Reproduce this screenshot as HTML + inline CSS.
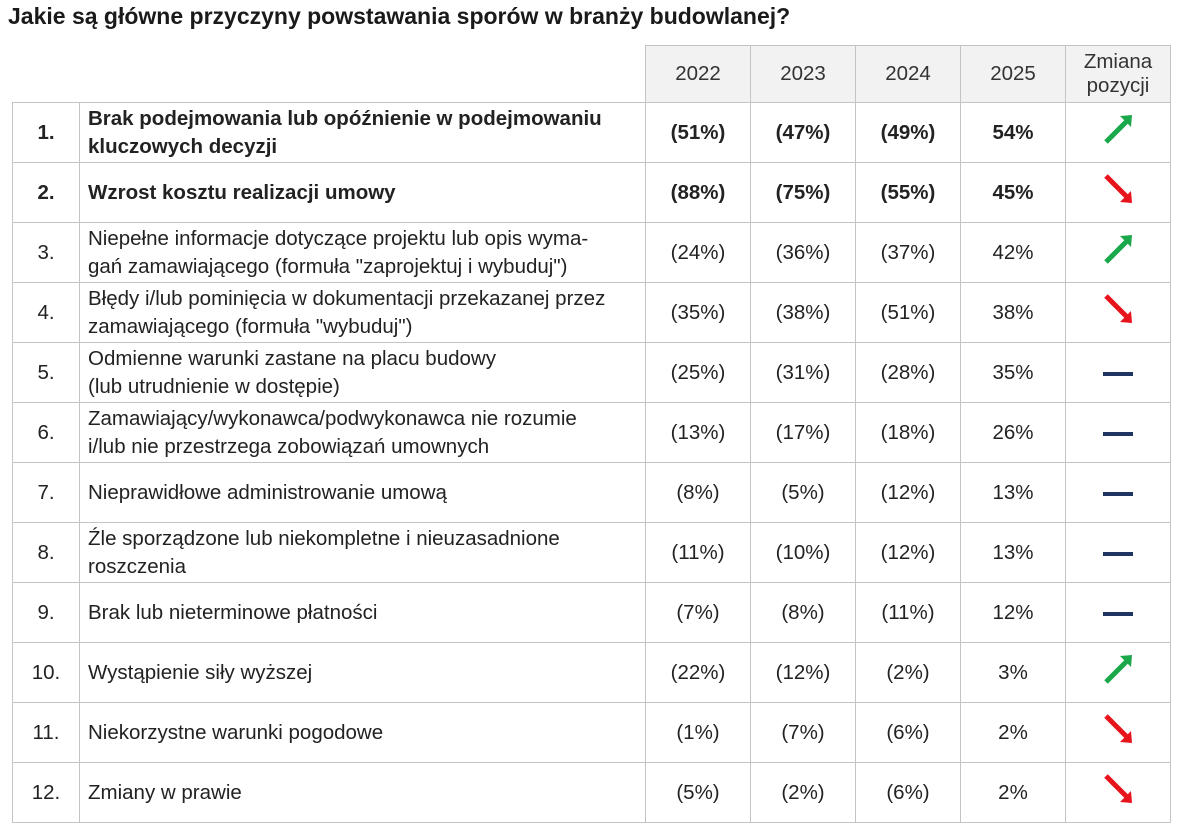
<!DOCTYPE html>
<html><head><meta charset="utf-8"><style>
body{margin:0;width:1199px;height:839px;background:#fff;font-family:"Liberation Sans",sans-serif;color:#222;position:relative;overflow:hidden}
.t{position:absolute;left:8px;top:3px;font-size:23px;font-weight:bold;color:#1a1a1a}
table{position:absolute;left:12px;top:45px;border-collapse:collapse;table-layout:fixed}
td{border:1.5px solid #c4c4c4;height:59px;padding:0;font-size:20.5px;text-align:center;line-height:28px;white-space:nowrap}
td.d{text-align:left;padding-left:8px}
tr.h td{background:#f2f2f2;height:56px;color:#333}
tr.h td.e{background:#fff;border:none;border-bottom:1.5px solid #c4c4c4}
tr.b td{font-weight:bold}
.z{line-height:24px}
</style></head><body>
<div class="t">Jakie są główne przyczyny powstawania sporów w branży budowlanej?</div>
<table>
<colgroup><col style="width:67px"><col style="width:566px"><col style="width:105px"><col style="width:105px"><col style="width:105px"><col style="width:105px"><col style="width:105px"></colgroup>
<tr class="h"><td class="e"></td><td class="e"></td><td>2022</td><td>2023</td><td>2024</td><td>2025</td><td class="z">Zmiana<br>pozycji</td></tr>
<tr class="b"><td>1.</td><td class="d">Brak podejmowania lub opóźnienie w podejmowaniu<br>kluczowych decyzji</td><td>(51%)</td><td>(47%)</td><td>(49%)</td><td>54%</td><td><svg width="40" height="40" viewBox="0 0 40 40"><path d="M8 33 L30 11" stroke="#1aa84a" stroke-width="5"/><path d="M22 7 L34 6 L33 18 Z" fill="#1aa84a"/></svg></td></tr>
<tr class="b"><td>2.</td><td class="d">Wzrost kosztu realizacji umowy</td><td>(88%)</td><td>(75%)</td><td>(55%)</td><td>45%</td><td><svg width="40" height="40" viewBox="0 0 40 40"><path d="M8 7 L30 29" stroke="#e8141c" stroke-width="5"/><path d="M22 33 L34 34 L33 22 Z" fill="#e8141c"/></svg></td></tr>
<tr><td>3.</td><td class="d">Niepełne informacje dotyczące projektu lub opis wyma-<br>gań zamawiającego (formuła "zaprojektuj i wybuduj")</td><td>(24%)</td><td>(36%)</td><td>(37%)</td><td>42%</td><td><svg width="40" height="40" viewBox="0 0 40 40"><path d="M8 33 L30 11" stroke="#1aa84a" stroke-width="5"/><path d="M22 7 L34 6 L33 18 Z" fill="#1aa84a"/></svg></td></tr>
<tr><td>4.</td><td class="d">Błędy i/lub pominięcia w dokumentacji przekazanej przez<br>zamawiającego (formuła "wybuduj")</td><td>(35%)</td><td>(38%)</td><td>(51%)</td><td>38%</td><td><svg width="40" height="40" viewBox="0 0 40 40"><path d="M8 7 L30 29" stroke="#e8141c" stroke-width="5"/><path d="M22 33 L34 34 L33 22 Z" fill="#e8141c"/></svg></td></tr>
<tr><td>5.</td><td class="d">Odmienne warunki zastane na placu budowy<br>(lub utrudnienie w dostępie)</td><td>(25%)</td><td>(31%)</td><td>(28%)</td><td>35%</td><td><svg width="40" height="10"><rect x="5" y="3" width="30" height="4" fill="#1f3461"/></svg></td></tr>
<tr><td>6.</td><td class="d">Zamawiający/wykonawca/podwykonawca nie rozumie<br>i/lub nie przestrzega zobowiązań umownych</td><td>(13%)</td><td>(17%)</td><td>(18%)</td><td>26%</td><td><svg width="40" height="10"><rect x="5" y="3" width="30" height="4" fill="#1f3461"/></svg></td></tr>
<tr><td>7.</td><td class="d">Nieprawidłowe administrowanie umową</td><td>(8%)</td><td>(5%)</td><td>(12%)</td><td>13%</td><td><svg width="40" height="10"><rect x="5" y="3" width="30" height="4" fill="#1f3461"/></svg></td></tr>
<tr><td>8.</td><td class="d">Źle sporządzone lub niekompletne i nieuzasadnione<br>roszczenia</td><td>(11%)</td><td>(10%)</td><td>(12%)</td><td>13%</td><td><svg width="40" height="10"><rect x="5" y="3" width="30" height="4" fill="#1f3461"/></svg></td></tr>
<tr><td>9.</td><td class="d">Brak lub nieterminowe płatności</td><td>(7%)</td><td>(8%)</td><td>(11%)</td><td>12%</td><td><svg width="40" height="10"><rect x="5" y="3" width="30" height="4" fill="#1f3461"/></svg></td></tr>
<tr><td>10.</td><td class="d">Wystąpienie siły wyższej</td><td>(22%)</td><td>(12%)</td><td>(2%)</td><td>3%</td><td><svg width="40" height="40" viewBox="0 0 40 40"><path d="M8 33 L30 11" stroke="#1aa84a" stroke-width="5"/><path d="M22 7 L34 6 L33 18 Z" fill="#1aa84a"/></svg></td></tr>
<tr><td>11.</td><td class="d">Niekorzystne warunki pogodowe</td><td>(1%)</td><td>(7%)</td><td>(6%)</td><td>2%</td><td><svg width="40" height="40" viewBox="0 0 40 40"><path d="M8 7 L30 29" stroke="#e8141c" stroke-width="5"/><path d="M22 33 L34 34 L33 22 Z" fill="#e8141c"/></svg></td></tr>
<tr><td>12.</td><td class="d">Zmiany w prawie</td><td>(5%)</td><td>(2%)</td><td>(6%)</td><td>2%</td><td><svg width="40" height="40" viewBox="0 0 40 40"><path d="M8 7 L30 29" stroke="#e8141c" stroke-width="5"/><path d="M22 33 L34 34 L33 22 Z" fill="#e8141c"/></svg></td></tr>
</table>
</body></html>
